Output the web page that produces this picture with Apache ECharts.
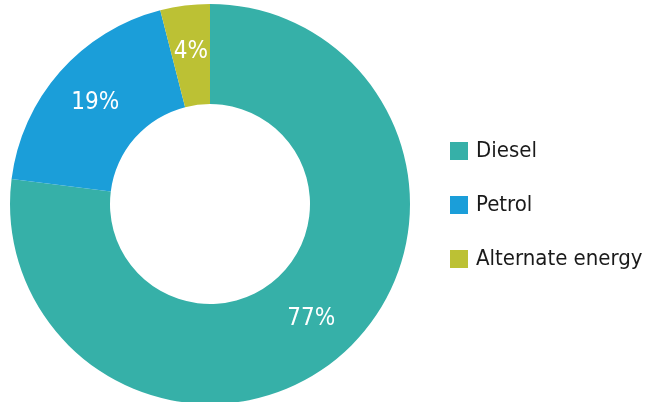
<!DOCTYPE html>
<html>
<head>
<meta charset="utf-8">
<script src="https://cdn.jsdelivr.net/npm/echarts@6/dist/echarts.min.js"></script>
<style>
html,body{margin:0;padding:0;background:#fff;}
#c{width:651px;height:402px;}
</style>
</head>
<body>
<div id="c"></div>
<script>
var categories = ['Diesel', 'Petrol', 'Alternate energy'];
var values = [77, 19, 4];
var colors = ['#36b0a8', '#1b9ed9', '#bcc134'];

var fontFam = '"DejaVu Sans Condensed", "Liberation Sans Narrow", sans-serif';
var chart = echarts.init(document.getElementById('c'), null, {renderer: 'canvas'});
chart.setOption({
  animation: false,
  color: colors,
  legend: {
    orient: 'vertical',
    left: 445,
    top: 135,
    itemWidth: 18,
    itemHeight: 18,
    itemGap: 32,
    icon: 'rect',
    selectedMode: false,
    textStyle: {
      fontFamily: fontFam,
      fontSize: 22,
      lineHeight: 22,
      color: '#1a1a1a',
      padding: [0, 0, 0, 3]
    },
    data: categories
  },
  series: [{
    type: 'pie',
    center: [210, 204],
    radius: [100, 200],
    startAngle: 90,
    clockwise: true,
    avoidLabelOverlap: false,
    emphasis: {disabled: true},
    label: {
      show: true,
      position: 'inside',
      formatter: '{c}%',
      color: '#fff',
      fontFamily: fontFam,
      fontSize: 24
    },
    labelLine: {show: false},
    data: categories.map(function (n, i) {
      return {name: n, value: values[i]};
    })
  }]
});
</script>
</body>
</html>
